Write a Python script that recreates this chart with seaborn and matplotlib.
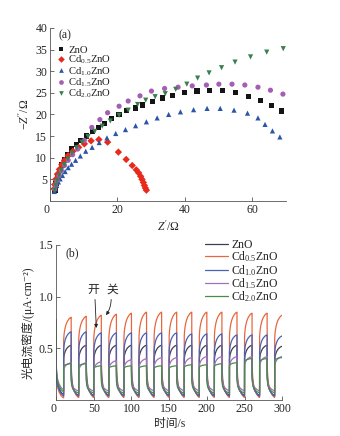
import numpy as np
import pandas as pd
import matplotlib
matplotlib.use("Agg")
import matplotlib.pyplot as plt
import seaborn as sns

# ---------------- data: panel (a) Nyquist plots ----------------
labels = ["ZnO", r"Cd$_{\mathregular{0.5}}$ZnO", r"Cd$_{\mathregular{1.0}}$ZnO",
          r"Cd$_{\mathregular{1.5}}$ZnO", r"Cd$_{\mathregular{2.0}}$ZnO"]

zre_zno = [1.5, 1.8, 2.2, 2.8, 3.5, 4.3, 5.3, 6.5, 7.8, 9.2, 10.8, 12.5, 14.3, 16.2, 18.3,
           20.5, 22.8, 25.3, 27.5, 30.3, 33.3, 36.3, 39.9, 43.6, 47.4, 51.1, 55.0, 58.9,
           62.4, 65.7, 68.8]
zim_zno = [2.5, 4.0, 5.5, 7.0, 8.3, 9.5, 10.8, 12.0, 13.0, 14.0, 15.0, 16.0, 17.0, 17.9, 19.0,
           20.0, 20.9, 21.5, 22.2, 22.9, 23.8, 24.4, 25.0, 25.4, 25.6, 25.5, 25.0, 24.2,
           23.2, 22.1, 20.8]

zre_05 = [1.2, 1.4, 1.7, 2.2, 2.8, 3.5, 4.3, 5.4, 6.8, 8.5, 10.2, 12.2, 14.5, 17.1, 20.3,
          22.6, 24.4, 25.6, 26.3, 26.9, 27.3, 27.7, 28.0, 28.3, 28.6]
zim_05 = [2.8, 3.8, 5.0, 6.2, 7.3, 8.4, 9.4, 10.5, 11.5, 12.4, 13.2, 13.9, 14.2, 13.6, 11.3,
          9.6, 8.2, 7.2, 6.5, 5.7, 5.0, 4.3, 3.6, 3.0, 2.5]

zre_10 = [1.3, 1.6, 2.0, 2.5, 3.0, 3.7, 4.5, 5.4, 6.4, 7.6, 9.0, 10.6, 12.5, 14.6, 16.9, 19.5,
          22.4, 25.4, 28.6, 31.8, 35.2, 38.7, 42.6, 46.6, 50.5, 54.6, 58.6, 61.7, 63.8, 66.0, 68.2]
zim_10 = [2.2, 2.8, 3.6, 4.4, 5.1, 5.9, 6.8, 7.7, 8.5, 9.4, 10.4, 11.5, 12.4, 13.5, 14.6, 15.6,
          16.5, 17.4, 18.3, 19.2, 20.0, 20.6, 21.1, 21.4, 21.4, 21.0, 20.3, 19.2, 17.7, 16.2, 14.8]

zre_15 = [1.4, 1.7, 2.1, 2.7, 3.4, 4.3, 5.4, 6.7, 8.2, 10.2, 12.4, 14.8, 17.1, 20.5, 23.2,
          26.7, 30.1, 34.0, 38.0, 42.2, 46.4, 50.1, 54.0, 57.8, 61.7, 65.4, 69.1]
zim_15 = [2.8, 3.8, 4.8, 5.9, 7.0, 8.2, 9.4, 10.7, 12.0, 14.0, 17.0, 18.8, 20.4, 21.9, 23.1,
          24.3, 25.4, 26.0, 26.3, 26.6, 26.8, 27.0, 27.0, 26.8, 26.3, 25.6, 24.7]

zre_20 = [1.4, 1.7, 2.1, 2.7, 3.4, 4.3, 5.3, 6.5, 7.9, 9.5, 11.3, 13.3, 15.5, 17.9, 20.5,
          23.2, 26.0, 28.4, 31.2, 34.2, 37.3, 40.6, 43.8, 47.2, 50.9, 54.9, 59.5, 64.3, 69.2]
zim_20 = [2.5, 3.6, 4.7, 5.9, 7.1, 8.4, 9.7, 11.0, 12.3, 13.6, 14.9, 16.1, 17.3, 18.5, 19.8,
          21.0, 22.3, 23.3, 24.1, 24.8, 25.8, 27.0, 28.4, 29.6, 30.8, 32.1, 33.3, 34.4, 35.2]

# ---------------- data: panel (b) photocurrent transients ----------------
light_on = [10, 30, 50, 70, 90, 110, 130, 150, 170, 190, 210, 230, 250, 270, 290]
peak_zno = [0.53, 0.53, 0.53, 0.53, 0.53, 0.53, 0.53, 0.53, 0.53, 0.53, 0.53, 0.53, 0.53, 0.53, 0.52]
peak_05 = [0.80, 0.81, 0.82, 0.83, 0.84, 0.85, 0.85, 0.85, 0.85, 0.85, 0.85, 0.85, 0.84, 0.84, 0.82]
peak_10 = [0.66, 0.66, 0.65, 0.65, 0.65, 0.65, 0.65, 0.65, 0.64, 0.64, 0.64, 0.63, 0.63, 0.63, 0.62]
peak_15 = [0.36, 0.36, 0.37, 0.38, 0.39, 0.40, 0.41, 0.41, 0.41, 0.42, 0.42, 0.42, 0.42, 0.42, 0.42]
peak_20 = [0.35, 0.35, 0.33, 0.33, 0.33, 0.33, 0.33, 0.33, 0.34, 0.34, 0.35, 0.36, 0.40, 0.40, 0.41]
dark_level = [0.03, 0.0, 0.02, 0.08, 0.06]       # ZnO, 0.5, 1.0, 1.5, 2.0
start_level = [0.78, 0.70, 0.72, 0.76, 0.74]     # first spike at t = 0

# one switching period (time after switching, fraction of step)
step_dt = [0, 0.05, 0.5, 1, 2, 3, 4, 5, 6, 7, 8, 9, 10]
rise_round = [0, 0.72, 0.78, 0.82, 0.87, 0.905, 0.93, 0.95, 0.965, 0.978, 0.988, 0.995, 1.0]
rise_flat = [0, 0.90, 0.93, 0.95, 0.96, 0.97, 0.98, 0.985, 0.99, 0.995, 1.0, 1.0, 1.0]
decay = [1, 0.45, 0.32, 0.25, 0.18, 0.14, 0.11, 0.09, 0.07, 0.055, 0.045, 0.035, 0.03]


def transient(peaks, base, start, rise):
    t, v = [], []
    cur = start
    for dt, f in zip(step_dt, decay):
        t.append(0 + dt); v.append(base + f * (cur - base))
    cur = v[-1]
    for k, ton in enumerate(light_on):
        for dt, f in zip(step_dt, rise):
            t.append(ton + dt); v.append(cur + f * (peaks[k] - cur))
        if ton + 10 < 300:
            top = v[-1]
            for dt, f in zip(step_dt[1:], decay[1:]):
                t.append(ton + 10 + dt); v.append(base + f * (top - base))
        cur = v[-1]
    return t, v


# ---------------- styling ----------------
sns.set_style("ticks")
plt.rcParams["font.family"] = ["Liberation Serif", "Noto Sans CJK SC", "DejaVu Sans"]
plt.rcParams["mathtext.fontset"] = "custom"
plt.rcParams["mathtext.rm"] = "Liberation Serif"
plt.rcParams["mathtext.it"] = "Liberation Serif:italic"
plt.rcParams["font.size"] = 8.5

cols_a = ["#141414", "#e8291c", "#2b55a8", "#a45fb5", "#3b7f4e"]
marks_a = ["s", "D", "^", "o", "v"]
cols_b = ["#3b3f58", "#e8663f", "#4a62b5", "#a070b8", "#4a8a4a"]

fig = plt.figure(figsize=(3.4, 4.36), dpi=100)
ax1 = fig.add_axes([0.147, 0.539, 0.694, 0.397])
ax2 = fig.add_axes([0.165, 0.0826, 0.665, 0.3555])

# ---------- panel (a) ----------
frames = []
for lab, xr, yi in zip(labels, [zre_zno, zre_05, zre_10, zre_15, zre_20],
                       [zim_zno, zim_05, zim_10, zim_15, zim_20]):
    frames.append(pd.DataFrame({"zre": xr, "zim": yi, "sample": lab}))
df_a = pd.concat(frames, ignore_index=True)
sns.scatterplot(data=df_a, x="zre", y="zim", hue="sample", style="sample",
                hue_order=labels, style_order=labels,
                palette=dict(zip(labels, cols_a)), markers=dict(zip(labels, marks_a)),
                s=14, edgecolor="none", linewidth=0, ax=ax1)
ax1.set_xlim(0, 70)
ax1.set_ylim(0, 40)
ax1.set_xticks([0, 20, 40, 60])
ax1.set_yticks([5, 10, 15, 20, 25, 30, 35, 40])
ax1.set_xlabel("$Z'$/Ω", labelpad=2)
ax1.set_ylabel("−$Z''$/Ω", labelpad=3)
ax1.text(2.5, 38.3, "(a)", va="center", ha="left")
h, l = ax1.get_legend_handles_labels()
ax1.legend(h, l, loc="upper left", bbox_to_anchor=(0.025, 0.9), frameon=False,
           borderpad=0, borderaxespad=0, handletextpad=0.15, labelspacing=-0.1,
           handlelength=1.0, markerscale=0.9, fontsize=7.7)

# ---------- panel (b) ----------
peaks_all = [peak_zno, peak_05, peak_10, peak_15, peak_20]
rises = [rise_round, rise_round, rise_round, rise_round, rise_flat]
widths = [0.8, 0.8, 0.8, 0.8, 1.5]
for i in range(5):
    t, v = transient(peaks_all[i], dark_level[i], start_level[i], rises[i])
    sns.lineplot(x=t, y=v, color=cols_b[i], lw=widths[i], estimator=None, sort=False,
                 ax=ax2, label=labels[i])
hb, lb = ax2.get_legend_handles_labels()
for hh in hb:
    hh.set_linewidth(0.9)
ax2.legend(hb, lb, loc="upper left", bbox_to_anchor=(0.66, 1.04), frameon=False,
           borderpad=0, borderaxespad=0, handletextpad=0.3, labelspacing=-0.12,
           handlelength=1.9)
ax2.set_xlim(0, 300)
ax2.set_ylim(0, 1.5)
ax2.set_xticks([0, 50, 100, 150, 200, 250, 300])
ax2.set_yticks([0.5, 1.0, 1.5])
ax2.set_xlabel("时间/s", labelpad=2)
ax2.set_ylabel("光电流密度/(μA·cm⁻²)", labelpad=3)
ax2.text(12, 1.42, "(b)", va="center", ha="left")
ax2.text(49, 1.065, "开", va="center", ha="center")
ax2.text(75, 1.065, "关", va="center", ha="center")
ax2.annotate("", xy=(53.5, 0.67), xytext=(51.5, 1.0),
             arrowprops=dict(arrowstyle="-|>", color="#222222", lw=0.6,
                             mutation_scale=5))
ax2.annotate("", xy=(64, 0.8), xytext=(73, 1.0),
             arrowprops=dict(arrowstyle="-|>", color="#222222", lw=0.6,
                             mutation_scale=5, connectionstyle="arc3,rad=-0.2"))

for ax in (ax1, ax2):
    sns.despine(ax=ax)
    for s in ("left", "bottom"):
        ax.spines[s].set_linewidth(0.6)
        ax.spines[s].set_color("#555555")
    ax.tick_params(direction="in", length=3, width=0.6, color="#555555",
                   labelsize=8.5, pad=2)
    ax.get_xticklabels()[0].set_horizontalalignment("right")

fig.savefig("out.png", dpi=100)
